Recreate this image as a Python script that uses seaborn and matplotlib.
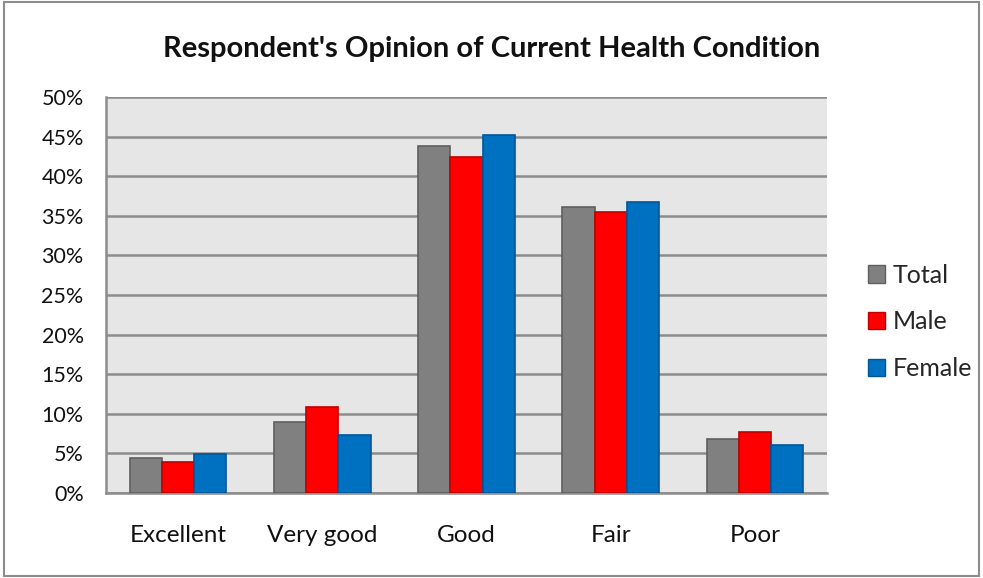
import numpy as np
import pandas as pd
import matplotlib.pyplot as plt
import seaborn as sns
from matplotlib.patches import Patch, Rectangle

# data (percent)
categories = ['Excellent', 'Very good', 'Good', 'Fair', 'Poor']
groups = ['Total', 'Male', 'Female']
total = [4.4, 9.0, 43.8, 36.1, 6.8]
male = [3.9, 10.8, 42.4, 35.5, 7.7]
female = [4.9, 7.3, 45.2, 36.8, 6.1]
y_ticks = [0, 5, 10, 15, 20, 25, 30, 35, 40, 45, 50]

colors = ['#808080', '#ff0000', '#0070c0']
edges = ['#5f5f5f', '#c00000', '#00569a']

df = pd.DataFrame({
    'Category': categories * 3,
    'Group': ['Total'] * 5 + ['Male'] * 5 + ['Female'] * 5,
    'Value': total + male + female,
})

sns.set_style('white')
plt.rcParams['font.family'] = ['Lato', 'DejaVu Sans']

fig = plt.figure(figsize=(9.83, 5.78), dpi=100)
ax = fig.add_axes([0.1078, 0.1471, 0.7335, 0.6851])
ax.set_facecolor('#e6e6e6')

sns.barplot(data=df, x='Category', y='Value', hue='Group', order=categories,
            hue_order=groups, palette=colors, width=0.67, saturation=1,
            legend=False, ax=ax, zorder=3)

for cont, ec in zip(ax.containers, edges):
    for bar in cont:
        bar.set_edgecolor(ec)
        bar.set_linewidth(1.2)

ax.set_ylim(0, 50)
ax.set_xlim(-0.5, 4.5)
ax.set_yticks(y_ticks)
ax.set_yticklabels([f'{v}%' for v in y_ticks], fontsize=15.5, color='#111111')
ax.set_xticks(range(len(categories)))
ax.set_xticklabels(categories, fontsize=17.5, color='#111111')
ax.set_xlabel('')
ax.set_ylabel('')
ax.yaxis.grid(True, color='#8c8c8c', linewidth=1.8, zorder=1)
ax.set_axisbelow(True)
ax.tick_params(axis='y', length=0, pad=16)
ax.tick_params(axis='x', length=0, pad=23)

for side in ['top', 'right']:
    ax.spines[side].set_visible(False)
for side in ['left', 'bottom']:
    ax.spines[side].set_color('#8c8c8c')
    ax.spines[side].set_linewidth(1.8)

handles = [Patch(facecolor=c, edgecolor=e, label=g) for c, e, g in zip(colors, edges, groups)]
fig.legend(handles=handles, loc='center left', bbox_to_anchor=(0.883, 0.443),
           frameon=False, fontsize=18, handlelength=0.68, handleheight=0.68,
           handletextpad=0.3, labelspacing=0.95, borderaxespad=0, borderpad=0)

fig.text(0.5, 0.916, "Respondent's Opinion of Current Health Condition",
         ha='center', va='center', fontsize=21, fontweight='bold', color='#111111')

fig.patches.append(Rectangle((0.004, 0.004), 0.992, 0.992, transform=fig.transFigure,
                             fill=False, edgecolor='#8c8c8c', linewidth=1.5))

plt.savefig('out.png', dpi=100)
plt.close()
